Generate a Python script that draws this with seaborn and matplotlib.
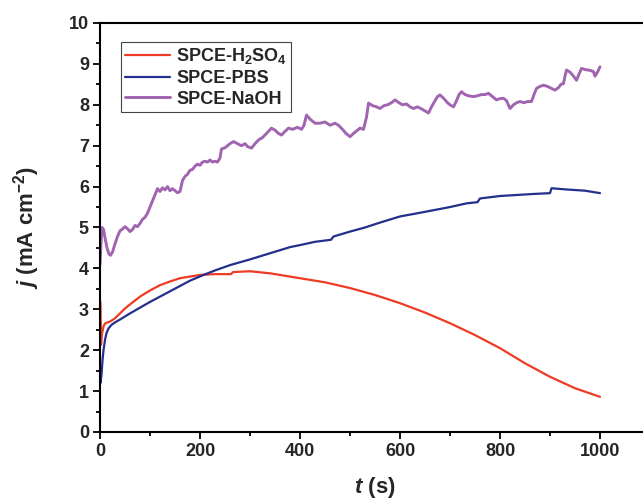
import numpy as np
import pandas as pd
import matplotlib
matplotlib.use("Agg")
import matplotlib.pyplot as plt
from matplotlib.ticker import MultipleLocator
import seaborn as sns

# ---------------- data ----------------
t_h2so4 = [0, 1, 2, 4, 7, 10, 15, 20, 30, 40, 50, 60, 80, 100, 120, 140, 160, 180,
           200, 230, 262, 266, 300, 340, 380, 400, 450, 500, 550, 600, 650, 700,
           750, 800, 850, 900, 950, 1000]
j_h2so4 = [3.20, 3.15, 2.13, 2.40, 2.58, 2.65, 2.68, 2.70, 2.78, 2.90, 3.02, 3.12,
           3.31, 3.46, 3.59, 3.68, 3.76, 3.80, 3.84, 3.86, 3.86, 3.91, 3.93, 3.88,
           3.80, 3.76, 3.66, 3.52, 3.35, 3.15, 2.92, 2.66, 2.37, 2.05, 1.68, 1.35,
           1.07, 0.86]

t_pbs = [0, 1, 3, 5, 7, 10, 13, 17, 23, 30, 40, 60, 80, 100, 120, 140, 160, 180,
         207, 230, 260, 300, 340, 380, 400, 430, 462, 467, 500, 530, 560, 600,
         640, 670, 700, 733, 755, 760, 800, 867, 900, 903, 933, 970, 1000]
j_pbs = [1.30, 1.20, 1.40, 1.75, 2.00, 2.25, 2.42, 2.53, 2.62, 2.68, 2.75, 2.90,
         3.04, 3.18, 3.31, 3.44, 3.57, 3.70, 3.84, 3.95, 4.08, 4.22, 4.37, 4.52,
         4.57, 4.65, 4.70, 4.78, 4.90, 5.00, 5.12, 5.27, 5.36, 5.43, 5.50, 5.59,
         5.62, 5.71, 5.77, 5.82, 5.84, 5.96, 5.93, 5.90, 5.84]

t_naoh = [0, 2, 4, 7, 10, 14, 18, 21, 25, 30, 35, 40, 45, 50, 55, 60, 65, 70, 75,
          80, 85, 90, 95, 100, 105, 110, 115, 120, 125, 130, 135, 140, 145, 150,
          155, 160, 165, 170, 175, 180, 185, 190, 195, 200, 205, 210, 215, 220,
          225, 230, 235, 240, 243, 250, 255, 260, 267, 275, 283, 290, 295, 303,
          310, 317, 325, 333, 343, 350, 357, 363, 370, 377, 385, 395, 403, 408,
          413, 420, 430, 440, 450, 460, 470, 477, 485, 492, 500, 507, 515, 520,
          527, 533, 537, 545, 553, 560, 568, 575, 583, 590, 598, 605, 613, 620,
          627, 635, 643, 650, 657, 663, 670, 675, 680, 688, 695, 700, 707, 713,
          718, 723, 730, 737, 747, 755, 763, 770, 777, 785, 793, 800, 807, 813,
          820, 827, 833, 840, 848, 855, 863, 868, 873, 880, 887, 895, 903, 910,
          917, 922, 927, 930, 933, 940, 947, 953, 958, 963, 970, 977, 983, 987,
          990, 995, 1000]
j_naoh = [4.08, 4.60, 5.00, 4.95, 4.75, 4.50, 4.35, 4.32, 4.40, 4.60, 4.78, 4.92,
          4.96, 5.02, 4.97, 4.90, 4.95, 5.05, 5.02, 5.10, 5.20, 5.25, 5.35, 5.50,
          5.65, 5.80, 5.95, 5.88, 5.97, 5.92, 6.00, 5.90, 5.95, 5.90, 5.85, 5.88,
          6.15, 6.25, 6.30, 6.40, 6.42, 6.50, 6.55, 6.52, 6.60, 6.62, 6.60, 6.65,
          6.60, 6.62, 6.60, 6.70, 6.92, 6.95, 7.00, 7.05, 7.10, 7.05, 7.00, 7.05,
          6.98, 6.94, 7.05, 7.14, 7.20, 7.30, 7.43, 7.38, 7.30, 7.26, 7.35, 7.43,
          7.40, 7.45, 7.40, 7.50, 7.75, 7.65, 7.55, 7.55, 7.58, 7.50, 7.55, 7.50,
          7.40, 7.30, 7.22, 7.30, 7.38, 7.43, 7.40, 7.70, 8.04, 7.98, 7.95, 7.91,
          7.98, 8.00, 8.05, 8.12, 8.05, 8.00, 8.02, 7.95, 7.91, 7.95, 7.90, 7.85,
          7.80, 7.95, 8.10, 8.20, 8.24, 8.15, 8.05, 8.00, 7.95, 8.10, 8.25, 8.32,
          8.25, 8.22, 8.20, 8.22, 8.25, 8.25, 8.28, 8.20, 8.12, 8.15, 8.16, 8.10,
          7.91, 8.00, 8.05, 8.08, 8.05, 8.08, 8.08, 8.25, 8.40, 8.45, 8.48, 8.45,
          8.40, 8.36, 8.42, 8.50, 8.52, 8.70, 8.85, 8.80, 8.70, 8.60, 8.75, 8.89,
          8.86, 8.85, 8.83, 8.81, 8.70, 8.80, 8.93]

labels = ["SPCE-H$_2$SO$_4$", "SPCE-PBS", "SPCE-NaOH"]
colors = ["#ef3b24", "#22308c", "#a064b0"]
x_ticks = [0, 200, 400, 600, 800, 1000]
y_ticks = list(range(0, 11))

# ---------------- style ----------------
sns.set_theme(style="ticks")
plt.rcParams["font.family"] = ["Liberation Sans", "DejaVu Sans"]
plt.rcParams["font.weight"] = "bold"
plt.rcParams["mathtext.fontset"] = "custom"
plt.rcParams["mathtext.rm"] = "Liberation Sans:bold"
plt.rcParams["mathtext.it"] = "Liberation Sans:italic:bold"
plt.rcParams["mathtext.bf"] = "Liberation Sans:bold"

fig = plt.figure(figsize=(6.43, 5.01), dpi=100)
ax = fig.add_axes([100 / 643, 69 / 501, 550 / 643, 409 / 501])

series = [(t_h2so4, j_h2so4), (t_pbs, j_pbs), (t_naoh, j_naoh)]
widths = [1.6, 1.6, 2.1]
for (t, j), lab, c, lw in zip(series, labels, colors, widths):
    df = pd.DataFrame({"t": t, "j": j})
    sns.lineplot(data=df, x="t", y="j", ax=ax, color=c, linewidth=lw,
                 label=lab, sort=False, estimator=None)

ax.set_xlim(0, 1100)
ax.set_ylim(0, 10)
ax.set_xticks(x_ticks)
ax.set_yticks(y_ticks)
ax.xaxis.set_minor_locator(MultipleLocator(100))
ax.yaxis.set_minor_locator(MultipleLocator(0.5))
ax.tick_params(which="major", direction="out", length=5, width=1.3,
               labelsize=13, color="black", pad=3)
ax.tick_params(which="minor", direction="out", length=3, width=1.3, color="black")
for lbl in ax.get_xticklabels() + ax.get_yticklabels():
    lbl.set_fontweight("bold")

for side in ["left", "bottom", "top"]:
    ax.spines[side].set_linewidth(1.5)
    ax.spines[side].set_color("black")
ax.spines["right"].set_visible(False)

ax.set_xlabel(r"$\it{t}$ (s)", fontsize=16, fontweight="bold", labelpad=11)
ax.set_ylabel(r"$\it{j}$ (mA cm$^{-2}$)", fontsize=16, fontweight="bold", labelpad=19)

leg = ax.legend(loc="upper left", bbox_to_anchor=(0.038, 0.954), borderaxespad=0,
                fontsize=13, handlelength=2.45, handletextpad=0.35,
                labelspacing=0.2, borderpad=0.25, fancybox=False, framealpha=1,
                edgecolor="#444444")
leg.get_frame().set_linewidth(0.8)
for txt in leg.get_texts():
    txt.set_fontweight("bold")

fig.savefig("out.png", dpi=100)
